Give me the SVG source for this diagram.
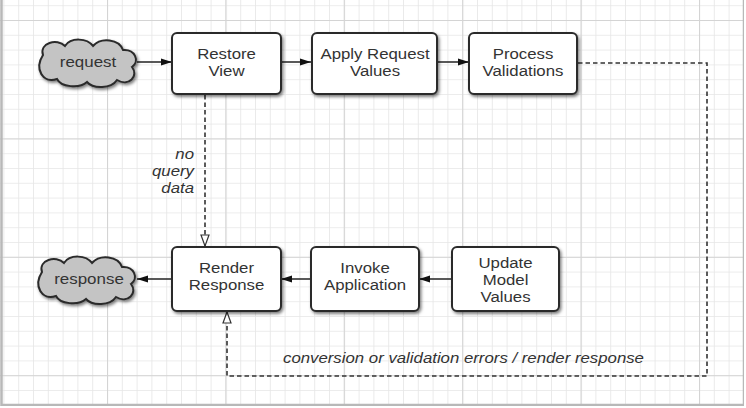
<svg xmlns="http://www.w3.org/2000/svg" width="746" height="408" viewBox="0 0 746 408">
<defs>
<style>
.box{fill:#fff;stroke:#2a2a2a;stroke-width:2;filter:url(#sh)}
.cloud{fill:#c4c4c4;stroke:#2a2a2a;stroke-width:2;filter:url(#sh)}
.lbl{font-family:"Liberation Sans",Arial,sans-serif;font-size:15px;fill:#333;text-anchor:middle}
.it{font-family:"Liberation Sans",Arial,sans-serif;font-size:15px;font-style:italic;fill:#333}
.solid{fill:none;stroke:#222;stroke-width:1.5;marker-end:url(#fa)}
.dash{fill:none;stroke:#333;stroke-width:1.6;stroke-dasharray:4.5,3;marker-end:url(#ha)}
</style>
<filter id="sh" x="-20%" y="-20%" width="140%" height="150%">
<feDropShadow dx="1.5" dy="2" stdDeviation="1.8" flood-color="#000" flood-opacity="0.5"/>
</filter>
<marker id="fa" markerWidth="12" markerHeight="10" refX="11" refY="5" orient="auto" markerUnits="userSpaceOnUse">
<path d="M0,1.5 L11,5 L0,8.5 Z" fill="#111"/>
</marker>
<marker id="ha" markerWidth="14" markerHeight="12" refX="12" refY="6" orient="auto" markerUnits="userSpaceOnUse">
<path d="M1,2 L12,6 L1,10 Z" fill="#fff" stroke="#333" stroke-width="1.2"/>
</marker>
<pattern id="minor" patternUnits="userSpaceOnUse" x="3.4" y="5.2" width="14.8" height="14.8">
<path d="M0,0 V14.8 M0,0 H14.8" stroke="#e6e6e6" stroke-width="1.6" fill="none"/>
</pattern>
<pattern id="major" patternUnits="userSpaceOnUse" x="107" y="20" width="118.4" height="118.4">
<path d="M0,0 V118.4 M0,0 H118.4" stroke="#d4d4d4" stroke-width="2.2" fill="none"/>
</pattern>
</defs>
<g id="background">
<rect x="0" y="0" width="746" height="408" fill="#fff"/>
<rect x="0" y="0" width="746" height="408" fill="url(#minor)"/>
<rect x="0" y="0" width="746" height="408" fill="url(#major)"/>
<path d="M1.5,0 V405 H744 V0" fill="none" stroke="#b8b8b8" stroke-width="2.5"/>
<rect x="744" y="0" width="2" height="408" fill="#fff"/>
<rect x="0" y="406" width="746" height="2" fill="#fff"/>
</g>
<g id="connectors">
<path class="solid" d="M137,62 H172"/>
<path class="solid" d="M281,62 H311"/>
<path class="solid" d="M437,62 H469"/>
<path class="solid" d="M452,279 H419"/>
<path class="solid" d="M311,279 H281"/>
<path class="solid" d="M172,279 H137"/>
<path class="dash" d="M205,95 V246"/>
<path class="dash" d="M578,63 H707 V376 H227 V312"/>
<g id="label-noquery" class="it" text-anchor="end" transform="matrix(1.12,0,0,1,194,0)">
<text x="0" y="159">no</text>
<text x="0" y="176">query</text>
<text x="0" y="193">data</text>
</g>
<text id="label-errors" class="it" transform="matrix(1.12,0,0,1,283,0)" x="0" y="363">conversion or validation errors / render response</text>
</g>
<g id="request">
<path class="cloud" transform="translate(87,63)" d="M-44,-8 C-48,-20 -30,-25 -22,-17 C-16,-26 0,-25 6,-17 C14,-26 32,-24 36,-13 C48,-14 53,-2 45,4 C52,13 42,24 30,17 C24,26 6,26 0,19 C-8,26 -26,24 -30,16 C-44,21 -53,6 -44,-8 Z"/>
<text class="lbl" transform="matrix(1.13,0,0,1,88,0)" x="0" y="67">request</text>
</g>
<g id="response">
<path class="cloud" transform="translate(86,280)" d="M-44,-8 C-48,-20 -30,-25 -22,-17 C-16,-26 0,-25 6,-17 C14,-26 32,-24 36,-13 C48,-14 53,-2 45,4 C52,13 42,24 30,17 C24,26 6,26 0,19 C-8,26 -26,24 -30,16 C-44,21 -53,6 -44,-8 Z"/>
<text class="lbl" transform="matrix(1.13,0,0,1,89,0)" x="0" y="284">response</text>
</g>
<g id="restore-view">
<rect class="box" x="172" y="33" width="109" height="61" rx="5"/>
<g class="lbl" transform="matrix(1.12,0,0,1,226.5,0)">
<text x="0" y="59">Restore</text>
<text x="0" y="76">View</text>
</g>
</g>
<g id="apply-request-values">
<rect class="box" x="312" y="33" width="125" height="61" rx="5"/>
<g class="lbl" transform="matrix(1.12,0,0,1,375,0)">
<text x="0" y="59">Apply Request</text>
<text x="0" y="76">Values</text>
</g>
</g>
<g id="process-validations">
<rect class="box" x="469" y="33" width="108" height="61" rx="5"/>
<g class="lbl" transform="matrix(1.12,0,0,1,523,0)">
<text x="0" y="59">Process</text>
<text x="0" y="76">Validations</text>
</g>
</g>
<g id="render-response">
<rect class="box" x="172" y="247" width="109" height="64" rx="5"/>
<g class="lbl" transform="matrix(1.12,0,0,1,226.5,0)">
<text x="0" y="273">Render</text>
<text x="0" y="290">Response</text>
</g>
</g>
<g id="invoke-application">
<rect class="box" x="311" y="247" width="108" height="64" rx="5"/>
<g class="lbl" transform="matrix(1.12,0,0,1,365,0)">
<text x="0" y="273">Invoke</text>
<text x="0" y="290">Application</text>
</g>
</g>
<g id="update-model-values">
<rect class="box" x="452" y="247" width="107" height="64" rx="5"/>
<g class="lbl" transform="matrix(1.12,0,0,1,505.5,0)">
<text x="0" y="268">Update</text>
<text x="0" y="285">Model</text>
<text x="0" y="302">Values</text>
</g>
</g>
</svg>
